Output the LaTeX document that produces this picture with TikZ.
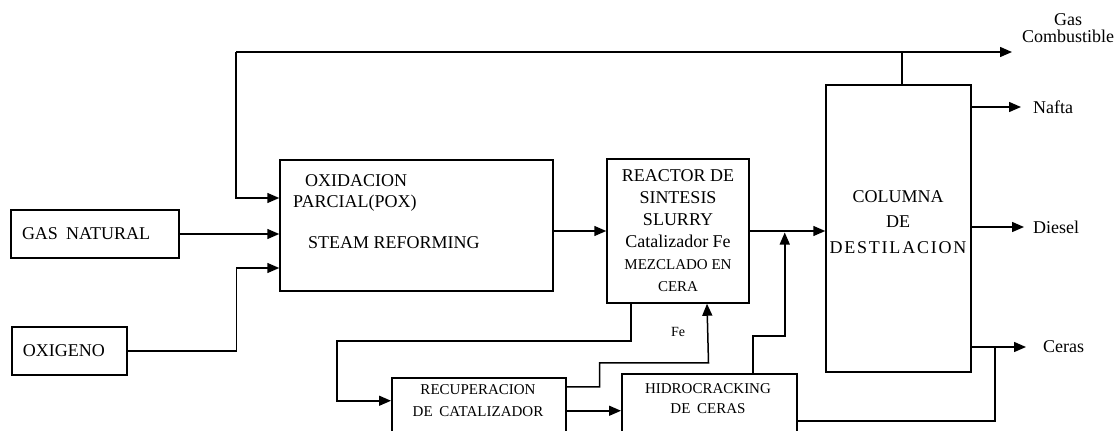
\documentclass[tikz,border=0pt]{standalone}
\usepackage{fontspec}
\setmainfont{Liberation Serif}
\newfontfamily\spacedfont[LetterSpace=10]{Liberation Serif}
\usetikzlibrary{arrows.meta}
\begin{document}
\begin{tikzpicture}[x=1pt,y=-1pt,
  box/.style={draw, line width=1.5pt, inner sep=0pt},
  big/.style={font=\fontsize{18}{22}\selectfont},
  small/.style={font=\fontsize{15}{21}\selectfont},
  txt/.style={inner sep=0pt, big},
  side/.style={inner ysep=0pt, font=\fontsize{18}{17}\selectfont},
  flow/.style={line width=1.5pt},
  arr/.style={flow, -{Triangle[length=12pt,width=10pt]}},
]
\useasboundingbox (0,0) rectangle (1117,431);
\clip (0,0) rectangle (1117,431);
\fill[white] (0,0) rectangle (1117,431);

% boxes
\node[box, big, minimum width=168pt, minimum height=48pt, text width=146pt,
      inner xsep=11pt, align=left] (gas) at (95,234) {GAS\hspace{0.45em}NATURAL};
\node[box, big, minimum width=115pt, minimum height=48pt, text width=93pt,
      inner xsep=11pt, align=left] (oxi) at (69.5,351) {OXIGENO};
\node[box, minimum width=273pt, minimum height=131pt] (pox) at (416.5,225.5) {};
\node[txt, anchor=west] (poxa) at (305,181) {OXIDACION};
\node[txt, anchor=west] (poxb) at (293,203) {PARCIAL(POX)};
\node[txt, anchor=west] (poxc) at (308,243) {STEAM REFORMING};

\node[box, big, minimum width=142pt, minimum height=144pt, align=center] (reac) at (678,231)
  {REACTOR DE\\SINTESIS\\SLURRY\\Catalizador Fe\\{\fontsize{15}{20}\selectfont MEZCLADO EN}\\{\fontsize{15}{20}\selectfont CERA}};

\node[box, minimum width=145pt, minimum height=287pt] (col) at (898.5,228.5) {};
\node[txt, align=center, font=\fontsize{18}{25.5}\selectfont] (colt) at (898,222)
  {COLUMNA\\DE\\{\spacedfont DESTILACION}};

\node[box, minimum width=174pt, minimum height=80pt, anchor=north west] (recup) at (391,377) {};
\node[inner sep=0pt, align=center, font=\fontsize{15}{22}\selectfont] (recupt) at (478,401)
  {RECUPERACION\\DE\hspace{0.45em}CATALIZADOR};
\node[box, minimum width=175pt, minimum height=80pt, anchor=north west] (hidro) at (621,373) {};
\node[inner sep=0pt, align=center, font=\fontsize{15}{20}\selectfont] (hidrot) at (708,399)
  {HIDROCRACKING\\DE\hspace{0.45em}CERAS};

\node[inner sep=0pt, font=\fontsize{14}{16}\selectfont] (fe) at (678,332) {Fe};

% outputs
\node[align=center, inner sep=0pt, font=\fontsize{18}{17.5}\selectfont] (gc) at (1068,28) {Gas\\Combustible};
\coordinate (gct) at (1012,52);
\coordinate (tl) at (236,52);
\node[side, anchor=west, inner xsep=12pt] (nafta) at (1021,107) {Nafta};
\node[side, anchor=west, inner xsep=9pt] (diesel) at (1024,227) {Diesel};
\node[side, anchor=west, inner xsep=17pt] (ceras) at (1026,347) {Ceras};

% connectors
\draw[arr] (tl) -- (gct);
\draw[flow] ([xshift=3.5pt]col.north) -- ([xshift=3.5pt]col.north |- tl);
\draw[arr] (tl) |- ([yshift=27.5pt]pox.west);
\draw[arr] (gas.east) -- (gas.east -| pox.west);
\draw[arr] (oxi.east) -| ([xshift=-43pt,yshift=-42.5pt]pox.west) -- ([yshift=-42.5pt]pox.west);
\draw[arr] (reac.west -| pox.east) -- (reac.west);
\draw[arr] (reac.east) -- (reac.east -| col.west);

\draw[arr] ([xshift=-47pt]reac.south) -- ++(0,37) -- ++(-294,0) |- ([yshift=17pt]recup.west);
\draw[arr] ([yshift=31pt]recup.east) -- ++(33,0) -- ++(0,-24) -- ++(109,0) -- ([xshift=29pt]reac.south);
\draw[arr] ([yshift=7pt]recup.east) -- ([yshift=7pt]recup.east -| hidro.west);
\draw[arr] ([xshift=43.5pt]hidro.north) -- ++(0,-37) -- ++(32,0) -- ++(0,-103.5);
\draw[flow] ([yshift=-7pt]hidro.east) -| ([xshift=-31pt]ceras.west);

\draw[arr] (col.east |- nafta.west) -- (nafta.west);
\draw[arr] (col.east |- diesel.west) -- (diesel.west);
\draw[arr] (col.east |- ceras.west) -- (ceras.west);
\end{tikzpicture}
\end{document}
